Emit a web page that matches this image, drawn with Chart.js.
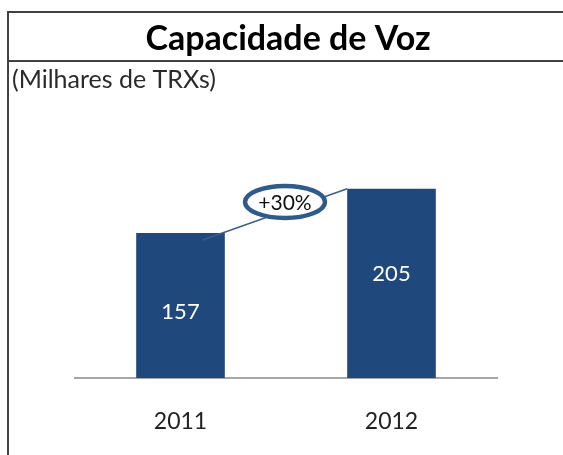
<!DOCTYPE html>
<html>
<head>
<meta charset="utf-8">
<script src="https://cdn.jsdelivr.net/npm/chart.js@4"></script>
<style>
  html, body { margin: 0; padding: 0; background: #ffffff; overflow: hidden; }
  canvas { display: block; }
</style>
</head>
<body>
<canvas id="grafico" width="563" height="455"></canvas>
<script>
const anos = ["2011", "2012"];
const capacidade = [157, 205];
const titulo = "Capacidade de Voz";
const unidade = "(Milhares de TRXs)";
const crescimento = "+30%";

const fonte = "Lato, 'Open Sans', sans-serif";

// moldura, titulo e balao de crescimento
const decoracao = {
    id: "decoracao",
    beforeDraw(chart) {
        const ctx = chart.ctx;
        ctx.save();
        ctx.strokeStyle = "#404040";
        ctx.lineWidth = 2;
        ctx.beginPath();
        ctx.moveTo(8, 455);
        ctx.lineTo(8, 12);
        ctx.lineTo(563, 12);
        ctx.moveTo(8, 61);
        ctx.lineTo(563, 61);
        ctx.stroke();

        ctx.fillStyle = "#000000";
        ctx.textAlign = "center";
        ctx.textBaseline = "middle";
        ctx.font = "bold 34px " + fonte;
        ctx.fillText(titulo, 288, 39);

        ctx.fillStyle = "#2a2a2a";
        ctx.textAlign = "left";
        ctx.font = "25px " + fonte;
        ctx.fillText(unidade, 12, 80);
        ctx.restore();
    },
    afterDatasetsDraw(chart) {
        const ctx = chart.ctx;
        const barras = chart.getDatasetMeta(0).data;
        const a = barras[0], b = barras[1];
        const x1 = a.x + a.width / 4, y1 = a.y + 7;
        const x2 = b.x - b.width / 2, y2 = b.y;
        const cx = (a.x + b.x) / 2 - 1, cy = (a.y + b.y) / 2 - 9;

        ctx.save();
        ctx.strokeStyle = "#3b5f8c";
        ctx.lineWidth = 1.5;
        ctx.beginPath();
        ctx.moveTo(x1, y1);
        ctx.lineTo(x2, y2);
        ctx.stroke();

        ctx.beginPath();
        ctx.ellipse(cx, cy, 40, 16, 0, 0, Math.PI * 2);
        ctx.fillStyle = "#ffffff";
        ctx.fill();
        ctx.lineWidth = 4.5;
        ctx.strokeStyle = "#2e5a8c";
        ctx.stroke();

        ctx.fillStyle = "#111111";
        ctx.textAlign = "center";
        ctx.textBaseline = "middle";
        ctx.font = "21px " + fonte;
        ctx.fillText(crescimento, cx, cy + 1);

        // valores dentro das barras
        ctx.fillStyle = "#ffffff";
        ctx.font = "22px " + fonte;
        barras.forEach((bar, i) => {
            const alto = bar.base - bar.y;
            ctx.fillText(String(capacidade[i]), bar.x, bar.y + 0.15 * alto + 57);
        });
        ctx.restore();
    }
};

new Chart(document.getElementById("grafico"), {
    type: "bar",
    data: {
        labels: anos,
        datasets: [
            {
                label: "Capacidade de Voz",
                data: capacidade,
                backgroundColor: "#1f497d",
                categoryPercentage: 1,
                barPercentage: 0.42
            }
        ]
    },
    options: {
        responsive: false,
        animation: false,
        layout: {
            padding: { left: 75, right: 66, top: 138, bottom: 17 }
        },
        scales: {
            x: {
                grid: { display: false, drawTicks: false },
                border: { display: true, color: "#a6a6a6", width: 2 },
                ticks: {
                    color: "#222222",
                    padding: 30,
                    font: { family: fonte, size: 23 }
                },
                afterFit(scale) {
                    scale.height = 60;
                }
            },
            y: {
                display: false,
                min: 0,
                max: 260
            }
        },
        plugins: {
            legend: { display: false },
            tooltip: { enabled: false }
        }
    },
    plugins: [decoracao]
});
</script>
</body>
</html>
